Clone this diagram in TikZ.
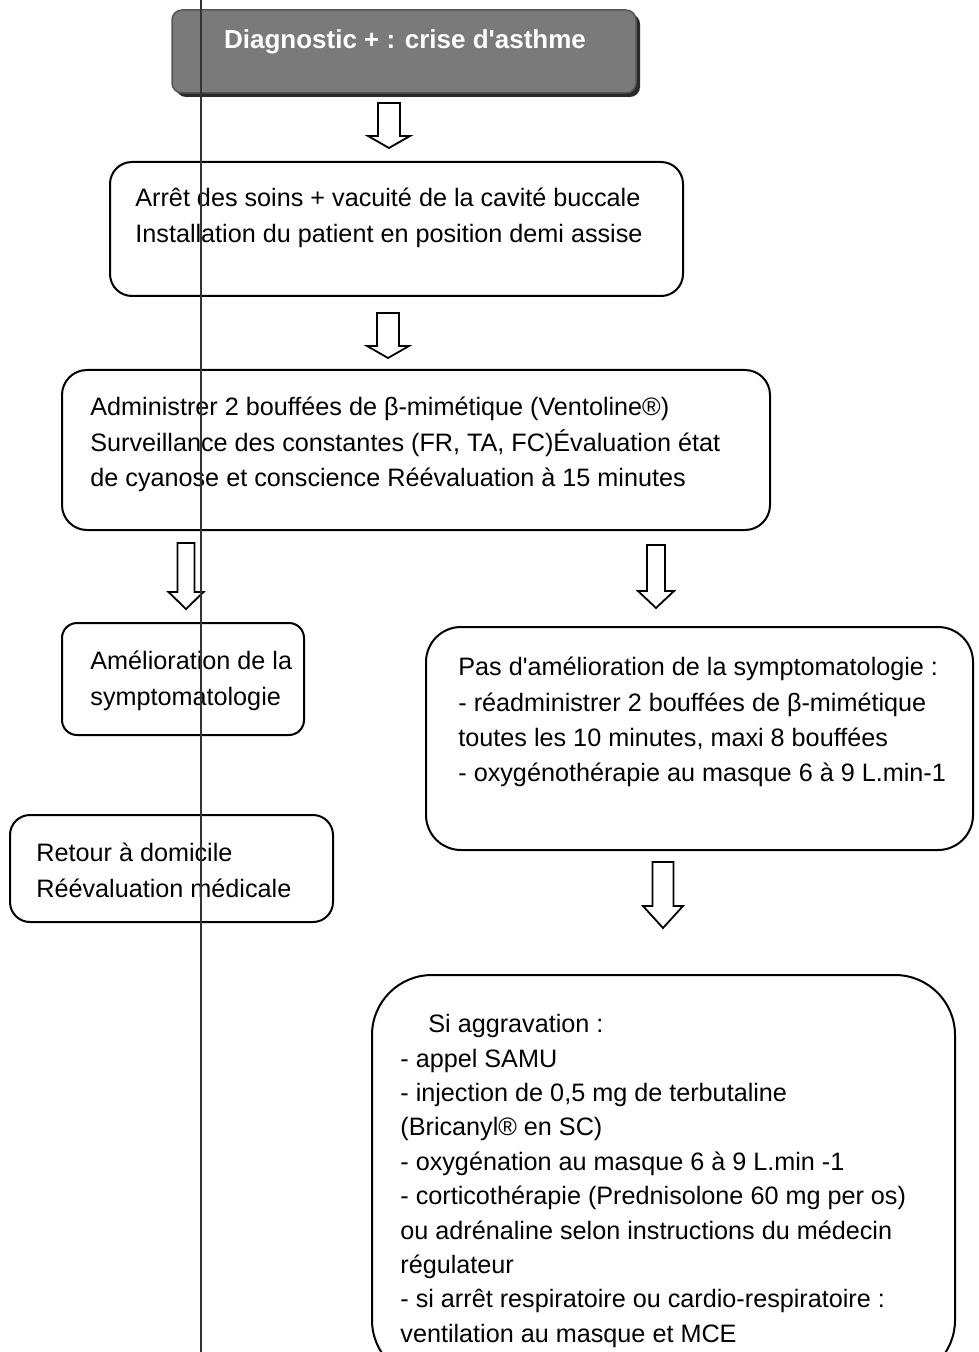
\documentclass[tikz,border=0pt]{standalone}
\usepackage{fontspec}
\setmainfont{Liberation Sans}[Ligatures=TeXOff]
\usepackage{xcolor}
\definecolor{asthmeGray}{HTML}{7A7A7A}
\definecolor{asthmeDark}{HTML}{2A2A2A}
\usetikzlibrary{
  positioning,
  fit,
  calc
}
\newlength\px
\setlength\px{0.5pt}
\tikzset{
  stepbox/.style={
    rectangle,draw=black,line width=2\px,
    inner sep=0pt,rounded corners=#1
  },
  headbox/.style={
    rectangle,draw=asthmeGray!70!black,fill=asthmeGray,
    line width=1.5\px,inner sep=0pt,rounded corners=10\px
  },
  headshadow/.style={
    rectangle,fill=asthmeDark,inner sep=0pt,rounded corners=10\px
  },
  boxtext/.style={
    anchor=north west,align=left,inner sep=0pt,
    font=\fontsize{12.6}{17.6}\selectfont
  },
  headtext/.style={
    font=\fontsize{13}{15}\selectfont\bfseries,text=white,inner sep=0pt
  },
  arrline/.style={draw=black,fill=white,line width=1.8\px,line join=miter},
  scanline/.style={line width=1.5\px,color=black!80},
  % length / shaft width / head width / head length
  pics/blockarr/.style n args={4}{
    code={
      \draw[arrline] ({-#2/2},0) -- ({-#2/2},{#1-#4}) -- ({-#3/2},{#1-#4})
        -- (0,#1) -- ({#3/2},{#1-#4}) -- ({#2/2},{#1-#4}) -- ({#2/2},0) -- cycle;
    }
  }
}

\begin{document}
\begin{tikzpicture}[x=0.5pt,y=-0.5pt]

\path[use as bounding box] (0,0) rectangle (978,1352);
\clip (0,0) rectangle (978,1352);

%% ── Titre ────────────────────────────────────────────────
\node[headshadow,fit={(176,14) (640,97)}] (diagsh) {};
\node[headbox,fit={(172,10) (636,93)}] (diag) {};
\node[headtext] (diagt) at (405,42) {Diagnostic + : crise d'asthme};

%% ── Premiers gestes ──────────────────────────────────────
\node[stepbox=22\px,fit={(110,162) (683,296)}] (soins) {};
\node[boxtext] (soinst) at (135,188) {
  Arrêt des soins + vacuité de la cavité buccale\\
  Installation du patient en position demi assise};

\node[stepbox=25\px,fit={(62,370) (770,530)}] (admin) {};
\node[boxtext] (admint) at (90,397) {
  Administrer 2 bouffées de β-mimétique (Ventoline®)\\
  Surveillance des constantes (FR, TA, FC)Évaluation état\\
  de cyanose et conscience Réévaluation à 15 minutes};

%% ── Branche gauche ───────────────────────────────────────
\node[stepbox=15\px,fit={(62,623) (304,735)}] (amelio) {};
\node[boxtext] (ameliot) at (90,651) {
  Amélioration de la\\
  symptomatologie};

\node[stepbox=20\px,fit={(10,815) (333,922)}] (retour) {};
\node[boxtext] (retourt) at (36,843) {
  Retour à domicile\\
  Réévaluation médicale};

%% ── Branche droite ───────────────────────────────────────
\node[stepbox=35\px,fit={(426,627) (973,850)}] (pasamelio) {};
\node[boxtext] (pasameliot) at (458,657) {
  Pas d'amélioration de la symptomatologie :\\
  - réadministrer 2 bouffées de β-mimétique\\
  toutes les 10 minutes, maxi 8 bouffées\\
  - oxygénothérapie au masque 6 à 9 L.min-1};

\node[stepbox=60\px,fit={(372,975) (955,1380)}] (aggrav) {};
\node[boxtext,font=\fontsize{12.6}{17.2}\selectfont] (aggravt) at (400,1014) {
  \hspace*{14pt}Si aggravation :\\
  - appel SAMU\\
  - injection de 0,5 mg de terbutaline\\
  (Bricanyl® en SC)\\
  - oxygénation au masque 6 à 9 L.min -1\\
  - corticothérapie (Prednisolone 60 mg per os)\\
  ou adrénaline selon instructions du médecin\\
  régulateur\\
  - si arrêt respiratoire ou cardio-respiratoire :\\
  ventilation au masque et MCE};

%% ── Flèches ──────────────────────────────────────────────
\pic (ar1) at (389,103) {blockarr={45}{22}{42}{12}};
\pic (ar2) at (388,313) {blockarr={45}{22}{42}{12}};
\pic (ar3) at (186,543) {blockarr={66}{17}{35}{17}};
\pic (ar4) at (656,545) {blockarr={63}{18}{36}{17}};
\pic (ar5) at (663,862) {blockarr={66}{21}{40}{22}};

%% ── Trait de numérisation ────────────────────────────────
\draw[scanline] (201,0) -- (201,1352);

\end{tikzpicture}
\end{document}
